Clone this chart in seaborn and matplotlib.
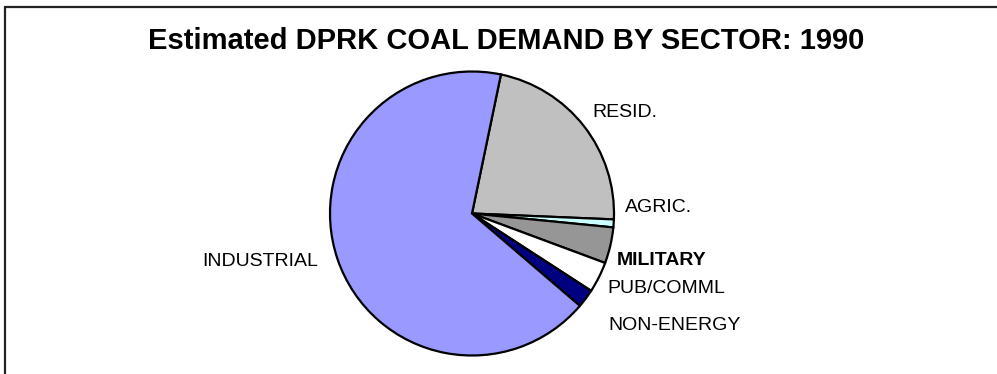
import matplotlib
matplotlib.use("Agg")
import matplotlib.pyplot as plt
import seaborn as sns

# Coal demand shares by sector (percent), 1990
sectors = ["RESID.", "AGRIC.", "MILITARY", "PUB/COMML", "NON-ENERGY", "INDUSTRIAL"]
shares = [22.4, 0.9, 4.1, 3.5, 2.1, 67.0]
colors = ["#C0C0C0", "#CCFFFF", "#969696", "#FFFFFF", "#000080", "#9999FF"]

sns.set_theme(style="white")
plt.rcParams["font.family"] = ["Liberation Sans", "DejaVu Sans"]

W, H = 997, 374
fig = plt.figure(figsize=(W / 100, H / 100), dpi=100)
ax = fig.add_axes([0, 0, 1, 1])
ax.set_xlim(0, W)
ax.set_ylim(0, H)
ax.set_aspect("equal")
ax.axis("off")

ax.pie(shares, colors=colors, startangle=78.25, counterclock=False,
       center=(472, H - 213.5), radius=142, frame=True,
       wedgeprops=dict(edgecolor="black", linewidth=1.6))
ax.set_xlim(0, W)
ax.set_ylim(0, H)
ax.axis("off")

# chart border (top and left edges)
ax.plot([5, 5], [H - 7, -5], color="#222222", lw=1.6, clip_on=False)
ax.plot([5, W + 5], [H - 7, H - 7], color="#222222", lw=1.6, clip_on=False)

ax.text(506, H - 49, "Estimated DPRK COAL DEMAND BY SECTOR: 1990",
        ha="center", va="baseline", fontsize=21, fontweight="bold", color="black")

# sector labels: (x, baseline y, horizontal alignment, weight)
label_pos = {
    "RESID.": (592, 117, "left", "normal"),
    "AGRIC.": (625, 212, "left", "normal"),
    "MILITARY": (617, 265, "left", "bold"),
    "PUB/COMML": (607, 293, "left", "normal"),
    "NON-ENERGY": (608, 330, "left", "normal"),
    "INDUSTRIAL": (318, 266.5, "right", "normal"),
}
for name in sectors:
    x, y, ha, wt = label_pos[name]
    ax.text(x, H - y, name, ha=ha, va="baseline", fontsize=14,
            fontweight=wt, color="black")

fig.savefig("out.png", dpi=100, facecolor="white")
